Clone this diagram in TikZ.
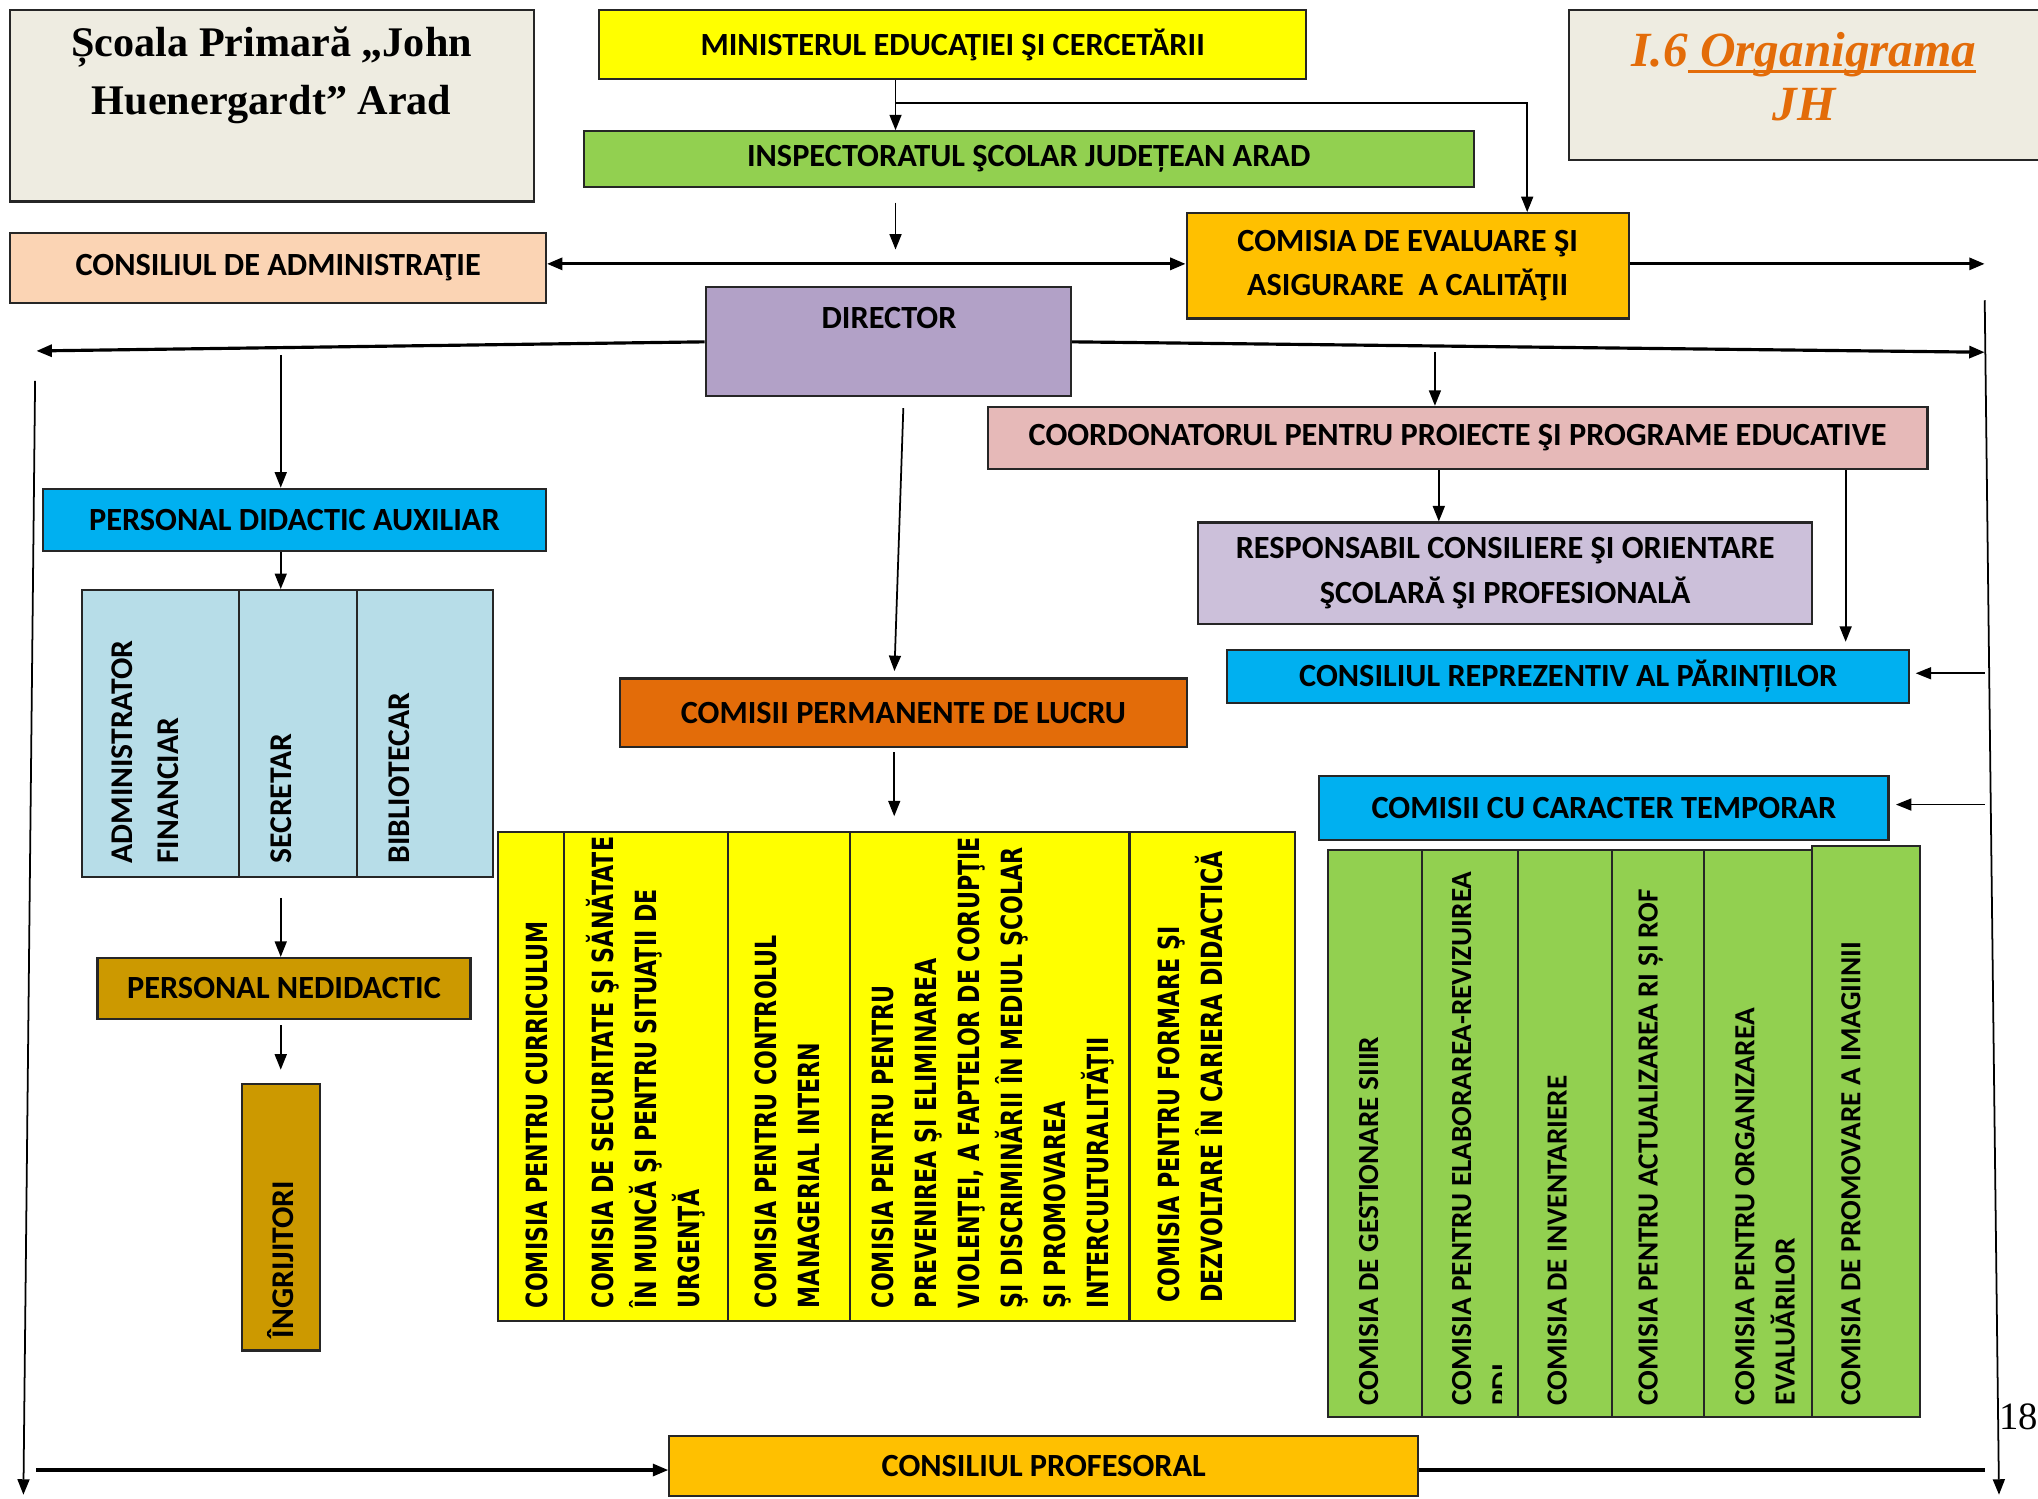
\documentclass[tikz,border=0pt]{standalone}
\usepackage{fontspec}
\setmainfont{Carlito}
\newfontfamily\titlefont{Liberation Serif}
\newfontfamily\colfont[FakeStretch=0.76]{DejaVu Sans}
\usetikzlibrary{arrows.meta}

\definecolor{Beige}{HTML}{EEECE1}
\definecolor{Lemon}{HTML}{FFFF00}
\definecolor{Lime}{HTML}{92D050}
\definecolor{Peach}{HTML}{FBD4B4}
\definecolor{Amber}{HTML}{FFC000}
\definecolor{Lilac}{HTML}{B2A1C7}
\definecolor{Rose}{HTML}{E6B9B8}
\definecolor{Lavender}{HTML}{CCC0DA}
\definecolor{Sky}{HTML}{00B0F0}
\definecolor{PaleBlue}{HTML}{B7DDE8}
\definecolor{Ochre}{HTML}{CC9900}
\definecolor{Pumpkin}{HTML}{E36C09}

\newcommand{\titleline}[1]{\setbox0\hbox{#1}\rlap{\rule[-2pt]{\wd0}{0.9pt}}\box0}

\begin{document}
\begin{tikzpicture}[x=0.013cm, y=-0.013cm,
		box/.style={draw=black!85, line width=0.6pt, inner sep=0pt, align=center, font=\fontsize{9.2}{12.6}\selectfont\bfseries},
		sized/.style 2 args={minimum width=#1*0.013cm, minimum height=#2*0.013cm},
		coltext/.style={rotate=90, anchor=west, align=left, inner sep=0pt, font=\fontsize{9}{13}\selectfont\bfseries},
		yeltext/.style={coltext, font=\colfont\fontsize{8.3}{12.2}\selectfont\bfseries},
		grntext/.style={coltext, font=\fontsize{8.3}{11.5}\selectfont\bfseries},
		con/.style={line width=0.5pt, -{Triangle[length=4.4pt, width=3.4pt]}},
		heavy/.style={line width=0.9pt}]
		
		\useasboundingbox (0,0) rectangle (1568,1153);
		
		% Header
		\node[box, fill=Beige, sized={403}{147}] (school) at (209.5,81.5) {};
		\node[align=center, font=\titlefont\fontsize{12}{16.3}\selectfont\bfseries] (schooltxt) at (209,58) {Școala Primară „John\\Huenergardt” Arad};
		\node[box, fill=Beige, sized={368}{115}] (jh) at (1391,65.5) {};
		\node[align=center, text=Pumpkin, font=\titlefont\fontsize{14}{15.5}\selectfont\bfseries\itshape] (jhtxt) at (1388,59) {I.6\titleline{\ Organigrama}\\JH};
		
		% Rectangle
		\node[box, fill=Lemon, sized={544}{53}] (min) at (733,34.5) {MINISTERUL EDUCAŢIEI ŞI CERCETĂRII};
		\node[box, fill=Lime, sized={685}{43}] (insp) at (791.5,122.5) {INSPECTORATUL ŞCOLAR JUDEȚEAN ARAD};
		\node[box, fill=Peach, sized={412}{54}] (adm) at (214,206) {CONSILIUL DE ADMINISTRAŢIE};
		\node[box, fill=Amber, sized={340}{81}] (eval) at (1083,204.5) {COMISIA DE EVALUARE ŞI\\ASIGURARE\ \ A CALITĂŢII};
		\node[box, fill=Lilac, sized={281}{84}] (dir) at (683.5,263) {};
		\node[font=\fontsize{9.2}{12.6}\selectfont\bfseries] (dirtxt) at (684,245) {DIRECTOR};
		\node[box, fill=Rose, sized={723}{48}] (coord) at (1121.5,337) {COORDONATORUL PENTRU PROIECTE ŞI PROGRAME EDUCATIVE};
		\node[box, fill=Lavender, sized={472}{78}] (resp) at (1158,441) {RESPONSABIL CONSILIERE ŞI ORIENTARE\\ŞCOLARĂ ŞI PROFESIONALĂ};
		\node[box, fill=Sky, sized={525}{41}] (parents) at (1206.5,520.5) {CONSILIUL REPREZENTIV AL PĂRINȚILOR};
		\node[box, fill=Sky, sized={438}{49}] (temp) at (1234,621.5) {COMISII CU CARACTER TEMPORAR};
		\node[box, fill=Sky, sized={387}{48}] (pda) at (226.5,400) {PERSONAL DIDACTIC AUXILIAR};
		\node[box, fill=PaleBlue, sized={121}{221}] (badm) at (123.5,564.5) {};
		\node[box, fill=PaleBlue, sized={91}{221}] (bsec) at (229.5,564.5) {};
		\node[box, fill=PaleBlue, sized={104}{221}] (bbib) at (327,564.5) {};
		\node[box, fill=Ochre, sized={287}{47}] (ned) at (218.5,760.5) {PERSONAL NEDIDACTIC};
		\node[box, fill=Ochre, sized={60}{205}] (ingr) at (216,936.5) {};
		\node[box, fill=Pumpkin, sized={436}{53}] (perm) at (695,548.5) {COMISII PERMANENTE DE LUCRU};
		\node[box, fill=Amber, sized={576}{46}] (prof) at (803,1128) {CONSILIUL PROFESORAL};
		
		% Yellow columns
		\node[box, fill=Lemon, sized={51}{376}] (y1) at (408.5,828) {};
		\node[box, fill=Lemon, sized={126}{376}] (y2) at (497,828) {};
		\node[box, fill=Lemon, sized={94}{376}] (y3) at (607,828) {};
		\node[box, fill=Lemon, sized={215}{376}] (y4) at (761.5,828) {};
		\node[box, fill=Lemon, sized={127}{376}] (y5) at (932.5,828) {};
		
		% Green columns
		\node[box, fill=Lime, sized={72}{436}] (g1) at (1058,872) {};
		\node[box, fill=Lime, sized={74}{436}] (g2) at (1131,872) {};
		\node[box, fill=Lime, sized={72}{436}] (g3) at (1204,872) {};
		\node[box, fill=Lime, sized={71}{436}] (g4) at (1275.5,872) {};
		\node[box, fill=Lime, sized={83}{436}] (g5) at (1352.5,872) {};
		\node[box, fill=Lime, sized={83}{439}] (g6) at (1435.5,870.5) {};
		
		% Text
		\node[coltext] (badmtxt) at (112,665) {ADMINISTRATOR\\FINANCIAR};
		\node[coltext] (bsectxt) at (216,665) {SECRETAR};
		\node[coltext] (bbibtxt) at (307,665) {BIBLIOTECAR};
		\node[coltext] (ingrtxt) at (216,1030) {ÎNGRIJITORI};
		
		\node[yeltext] (y1txt) at (413,1007) {COMISIA PENTRU CURRICULUM};
		\node[yeltext] (y2txt) at (497,1007) {COMISIA DE SECURITATE ŞI SĂNĂTATE\\ÎN MUNCĂ ŞI PENTRU SITUAŢII DE\\URGENŢĂ};
		\node[yeltext] (y3txt) at (606,1007) {COMISIA PENTRU CONTROLUL\\MANAGERIAL INTERN};
		\node[yeltext] (y4txt) at (764,1007) {COMISIA PENTRU PENTRU\\PREVENIREA ŞI ELIMINAREA\\VIOLENŢEI, A FAPTELOR DE CORUPŢIE\\ŞI DISCRIMINĂRII ÎN MEDIUL ŞCOLAR\\ŞI PROMOVAREA\\INTERCULTURALITĂŢII};
		\node[yeltext] (y5txt) at (916,1003) {COMISIA PENTRU FORMARE ŞI\\DEZVOLTARE ÎN CARIERA DIDACTICĂ};
		
		\node[grntext] (g1txt) at (1053,1082) {COMISIA DE GESTIONARE SIIIR};
		\begin{scope}
			\clip (1094,654) rectangle (1155,1090);
			\node[grntext] (g2txt) at (1140,1082) {COMISIA PENTRU ELABORAREA-REVIZUIREA\\PDI};
		\end{scope}
		\node[grntext] (g3txt) at (1198,1082) {COMISIA DE INVENTARIERE};
		\node[grntext] (g4txt) at (1270,1082) {COMISIA PENTRU ACTUALIZAREA RI ȘI ROF};
		\node[grntext] (g5txt) at (1358,1082) {COMISIA PENTRU ORGANIZAREA\\EVALUĂRILOR};
		\node[grntext] (g6txt) at (1424,1082) {COMISIA DE PROMOVARE A IMAGIINII};
		
		\node[font=\titlefont\fontsize{11}{13}\selectfont] (page) at (1553,1090) {18};
		
		% Flows
		\coordinate (b1) at (689,79);
		\coordinate (b2) at (1175,79);
		\coordinate (s2) at (689,192);
		\coordinate (r1) at (1527,203);
		\coordinate (r2) at (1527,271);
		\coordinate (l0) at (28,270);
		\coordinate (lt) at (27,293);
		\coordinate (lb) at (18,1150);
		\coordinate (rt) at (1527,231);
		\coordinate (rb) at (1538,1150);
		\coordinate (t1) at (216,273);
		\coordinate (t2) at (1104,271);
		\coordinate (t3) at (1107,0);
		\coordinate (t4) at (1420,0);
		\coordinate (t5) at (216,823);
		\coordinate (p1) at (1527,518);
		\coordinate (p2) at (1527,619);
		\coordinate (d1) at (695,314);
		\coordinate (d2) at (688,0);
		\coordinate (d3) at (688,628);
		\coordinate (lq) at (28,1131);
		\coordinate (rq) at (1527,1131);
		
		\draw[con] (min.south -| b1) -- (insp.north -| b1);
		\draw[con] (b1) -- (b2) -- (b2 |- eval.north);
		\draw[con] (insp.south -| s2) ++(0,11) -- (s2);
		\draw[con, heavy, {Triangle[length=4.4pt, width=3.4pt]}-{Triangle[length=4.4pt, width=3.4pt]}] (adm.east |- r1) -- (eval.west |- r1);
		\draw[con, heavy] (eval.east |- r1) -- (r1);
		\draw[con, heavy] (dir.west) -- (l0);
		\draw[con, heavy] (dir.east) -- (r2);
		\draw[con] (lt) -- (lb);
		\draw[con] (rt) -- (rb);
		\draw[con] (t1) -- (t1 |- pda.north);
		\draw[con] (t2) -- (t2 |- coord.north);
		\draw[con] (coord.south -| t3) -- (resp.north -| t3);
		\draw[con, shorten >=2pt] (coord.south -| t4) -- (parents.north -| t4);
		\draw[con, shorten >=1.5pt] (p1) -- (p1 -| parents.east);
		\draw[con, shorten >=1.8pt] (p2) -- (p2 -| temp.east);
		\draw[con, shorten >=1.8pt] (d1) -- (perm.north -| d2);
		\draw[con] (perm.south -| d3) ++(0,3) -- (d3);
		\draw[con] (pda.south -| t1) -- (bsec.north -| t1);
		\draw[con] (bsec.south -| t1) ++(0,15) -- (ned.north -| t1);
		\draw[con] (ned.south -| t5) ++(0,4) -- (t5);
		\draw[con, heavy] (lq) -- (lq -| prof.west);
		\draw[heavy] (prof.east |- rq) -- (rq);
		
\end{tikzpicture}
\end{document}
